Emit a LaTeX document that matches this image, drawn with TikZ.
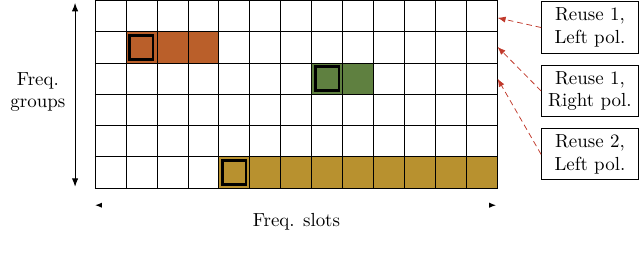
\documentclass[tikz,border=0pt]{standalone}
\usepackage{xcolor}
\usetikzlibrary{positioning,arrows.meta}
\definecolor{ink}{HTML}{000000}
\definecolor{reuseOrange}{HTML}{BA5F2A}
\definecolor{reuseGreen}{HTML}{5F8040}
\definecolor{reuseGold}{HTML}{B8912F}
\definecolor{pointerRed}{HTML}{C0392B}
\tikzset{
  slot grid/.style={
    draw=ink,
    line width=0.4pt
  },
  chosen slot/.style={
    draw=ink,
    line width=1.4pt
  },
  legend card/.style={
    draw=ink,
    fill=white,
    line width=0.5pt,
    align=center,
    text width=1.62cm,
    minimum height=0.95cm,
    inner sep=2.5pt
  },
  pointer edge/.style={
    -{Latex[length=1.5mm]},
    densely dashed,
    draw=pointerRed,
    line width=0.4pt
  },
  axis edge/.style={
    {Latex[length=1.6mm]}-{Latex[length=1.6mm]},
    draw=ink,
    line width=0.6pt
  },
  axis label/.style={
    align=center,
    text=ink
  }
}

\begin{document}
\begin{tikzpicture}
  \useasboundingbox (-1.764,-1.411) rectangle (10.12,3.491);

  % used slots
  \fill[reuseOrange] (0.575,2.32) rectangle (2.3,2.9);
  \fill[reuseGreen] (4.025,1.74) rectangle (5.175,2.32);
  \fill[reuseGold] (2.3,0) rectangle (7.475,0.58);

  \draw[slot grid,xstep=0.575,ystep=0.58] (0,0) grid (7.476,3.481);

  % chosen slots
  \draw[chosen slot] (0.645,2.39) rectangle (1.08,2.83);
  \draw[chosen slot] (4.095,1.81) rectangle (4.53,2.25);
  \draw[chosen slot] (2.37,0.07) rectangle (2.805,0.51);

  % axes
  \coordinate (groupsTop) at (-0.37,3.44);
  \coordinate (groupsBottom) at (-0.37,0.02);
  \draw[axis edge] (groupsBottom) -- (groupsTop);
  \node[axis label] (groupsLabel) at (-1.06,1.78) {Freq.\\groups};

  \coordinate (slotsLeft) at (0.0,-0.32);
  \coordinate (slotsRight) at (7.45,-0.32);
  \draw[{Latex[color=ink,length=1.3mm]}-{Latex[color=ink,length=1.3mm]},draw=white,line width=0.6pt]
    (slotsLeft) -- (slotsRight);
  \node[axis label] (slotsLabel) at (3.74,-0.63) {Freq. slots};

  % legend
  \node[legend card] (reuseOneLeft) at (9.19,2.98) {Reuse 1,\\Left pol.};
  \node[legend card,below=0.21cm of reuseOneLeft] (reuseOneRight) {Reuse 1,\\Right pol.};
  \node[legend card,below=0.21cm of reuseOneRight] (reuseTwoLeft) {Reuse 2,\\Left pol.};

  \coordinate (rowOne) at (7.475,3.16);
  \coordinate (rowTwo) at (7.475,2.62);
  \coordinate (rowThree) at (7.475,2.03);
  \draw[pointer edge] (reuseOneLeft.west) -- (rowOne);
  \draw[pointer edge] (reuseOneRight.west) -- (rowTwo);
  \draw[pointer edge] (reuseTwoLeft.west) -- (rowThree);
\end{tikzpicture}
\end{document}
